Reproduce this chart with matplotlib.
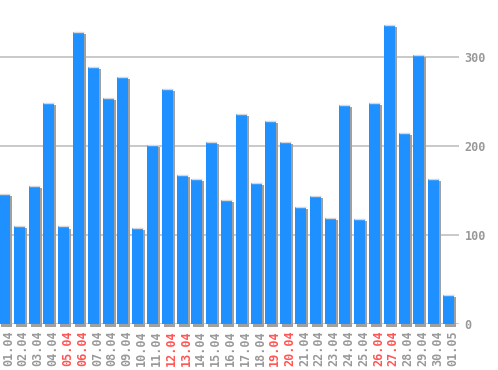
import matplotlib
matplotlib.use('Agg')
import matplotlib.pyplot as plt
import matplotlib.patheffects as pe
import matplotlib.transforms as mtransforms

# daily values
days = ['01.04', '02.04', '03.04', '04.04', '05.04', '06.04', '07.04', '08.04',
        '09.04', '10.04', '11.04', '12.04', '13.04', '14.04', '15.04', '16.04',
        '17.04', '18.04', '19.04', '20.04', '21.04', '22.04', '23.04', '24.04',
        '25.04', '26.04', '27.04', '28.04', '29.04', '30.04', '01.05']
values = [146, 111, 155, 248, 110, 328, 289, 254, 278, 108, 201, 264, 168, 163,
          205, 140, 236, 159, 228, 205, 132, 144, 119, 246, 118, 248, 336, 215,
          302, 163, 33]
weekends = ['05.04', '06.04', '12.04', '13.04', '19.04', '20.04', '26.04', '27.04']

fig = plt.figure(figsize=(4.98, 3.70), dpi=100)
ax = fig.add_axes([0.0, 0.123, 459 / 498, 0.877])

x = list(range(len(values)))
bars = ax.bar(x, values, width=0.74, color='#1e90ff', zorder=3, clip_on=False)
for b in bars:
    b.set_path_effects([pe.SimplePatchShadow(offset=(1.5, -1.5), shadow_rgbFace='#a0a0a0', alpha=1.0),
                        pe.Normal()])
# thin light line on top of every bar
ax.hlines(values, [i - 0.37 for i in x], [i + 0.37 for i in x], colors='#d8d8d8', linewidth=1, zorder=4)

ax.set_xlim(-0.30, 30.71)
ax.set_ylim(0, 364)
ax.set_yticks([0, 100, 200, 300])
ax.yaxis.tick_right()
ax.grid(axis='y', color='#c0c0c0', linewidth=1.2, zorder=0)
ax.set_axisbelow(True)
for s in ax.spines.values():
    s.set_visible(False)

ax.set_xticks(x)
ax.set_xticklabels(days, rotation=90)
ax.tick_params(length=0, labelsize=8.5, labelcolor='#999999', pad=4)
shift = mtransforms.ScaledTranslation(4 / 100, 0, fig.dpi_scale_trans)
for lab in ax.get_xticklabels():
    lab.set_transform(lab.get_transform() + shift)
for lab in ax.get_xticklabels() + ax.get_yticklabels():
    lab.set_family('DejaVu Sans Mono')
    lab.set_fontweight('bold')
    if lab.get_text() in weekends:
        lab.set_color('#ff5555')

fig.savefig('out.png', dpi=100)
